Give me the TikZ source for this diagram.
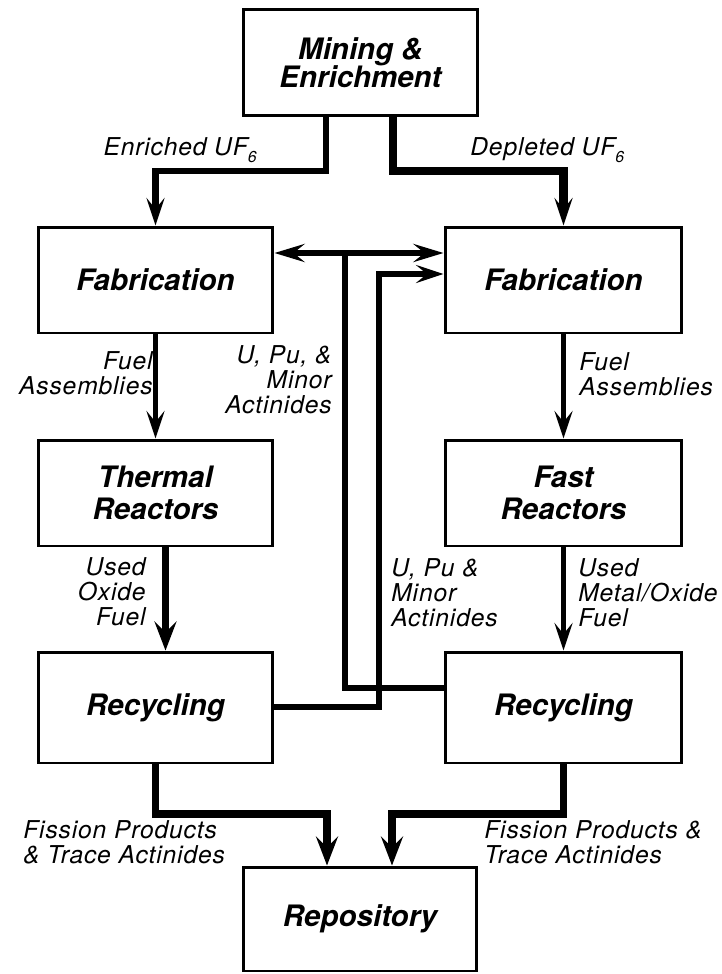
\documentclass[tikz,border=0pt]{standalone}
\usepackage{fontspec}
\setmainfont{TeX Gyre Heros}
\newfontfamily\lblfont[LetterSpace=3.5]{TeX Gyre Heros}
\usetikzlibrary{arrows.meta}
\newcommand\lowtxt[1]{\raisebox{-0.55ex}{\fontsize{9}{9}\selectfont #1}}

\tikzset{
  stage/.style={draw, line width=1.7pt, minimum width=4.7cm, minimum height=2.12cm,
    align=center, inner sep=0pt, font=\fontsize{16.8}{18.5}\selectfont\bfseries\itshape},
  lbl/.style={inner sep=0pt, font=\lblfont\itshape\fontsize{14}{14}\selectfont},
  tip/.style={-{Stealth[length=5.5mm,width=3.6mm,inset=2.2mm]}},
  bigtip/.style={-{Stealth[length=5.8mm,width=4.4mm,inset=2.2mm]}},
  pipe/.style={line width=3.6pt},
  thinpipe/.style={line width=2.3pt},
  fatpipe/.style={line width=4.3pt}
}

\begin{document}
\begin{tikzpicture}[x=0.02cm,y=-0.02cm]
\useasboundingbox (0,0) rectangle (722,974);

\node[stage, minimum height=2.14cm] (mine) at (360.5,62.5) {Mining \&\\[-2.8pt]Enrichment};
\node[stage] (fabL) at (155.5,280) {Fabrication};
\node[stage, minimum width=4.74cm] (fabR) at (563.5,280) {Fabrication};
\node[stage] (thermal) at (155.5,493) {Thermal\\Reactors};
\node[stage, minimum width=4.74cm] (fast) at (563.5,493) {Fast\\Reactors};
\node[stage, minimum height=2.22cm] (recL) at (155.5,707.5) {Recycling};
\node[stage, minimum width=4.74cm, minimum height=2.22cm] (recR) at (563.5,707.5) {Recycling};
\node[stage, minimum width=4.68cm, minimum height=2.08cm] (repo) at (360,919) {Repository};

% enrichment streams
\coordinate (eL) at (326,171);
\coordinate (eR) at (393,171);
\draw[pipe, tip] (mine.south -| eL) -- (eL) -| (fabL.north);
\draw[pipe, line width=4.6pt, tip] (mine.south -| eR) -- (eR) -| (fabR.north);
\node[lbl, anchor=base east] (enr) at (257,155) {Enriched UF\lowtxt{6}};
\node[lbl, anchor=base west] (dep) at (470,155) {Depleted UF\lowtxt{6}};

% fuel to reactors
\draw[thinpipe, tip] (fabL) -- (thermal);
\draw[thinpipe, tip] (fabR) -- (fast);
\node[lbl, align=right, anchor=base east] (faL) at (153,394) {Fuel\\Assemblies};
\node[lbl, align=left, anchor=base west] (faR) at (579,395) {Fuel\\Assemblies};

% used fuel to recycling
\draw[fatpipe, bigtip] ([xshift=0.2cm]thermal.south) -- ([xshift=0.2cm]recL.north);
\draw[thinpipe, tip] (fast) -- (recR);
\node[lbl, align=right, anchor=base east] (ufL) at (146,625) {Used\\Oxide\\Fuel};
\node[lbl, align=left, anchor=base west] (ufR) at (578,626) {Used\\Metal/Oxide\\Fuel};

% actinide return loops
\coordinate (jA) at (345,253);
\coordinate (jB) at (345,688);
\coordinate (kA) at (379,274);
\coordinate (kB) at (379,707);
\draw[pipe, {Stealth[length=6mm,width=3.6mm,inset=2.2mm]}-{Stealth[length=6mm,width=3.6mm,inset=2.2mm]}]
  (fabL.east |- jA) -- (fabR.west |- jA);
\draw[pipe] (jA) -- (jB) -- (recR.west |- jB);
\draw[pipe, tip] (recL.east |- kB) -- (kB) -- (kA) -- (fabR.west |- kA);
\node[lbl, align=right, anchor=base east] (acL) at (332,413) {U, Pu, \&\\Minor\\Actinides};
\node[lbl, align=left, anchor=base west] (acR) at (391,626) {U, Pu \&\\Minor\\Actinides};

% waste to repository
\coordinate (rL) at (327,814);
\coordinate (rR) at (392,814);
\draw[fatpipe, bigtip] (recL.south) |- (rL) -- (repo.north -| rL);
\draw[fatpipe, bigtip] (recR.south) |- (rR) -- (repo.north -| rR);
\node[lbl, align=left, anchor=base west] (fpL) at (23,863) {Fission Products\\\& Trace Actinides};
\node[lbl, align=left, anchor=base west] (fpR) at (484,863) {Fission Products \&\\Trace Actinides};
\end{tikzpicture}
\end{document}
